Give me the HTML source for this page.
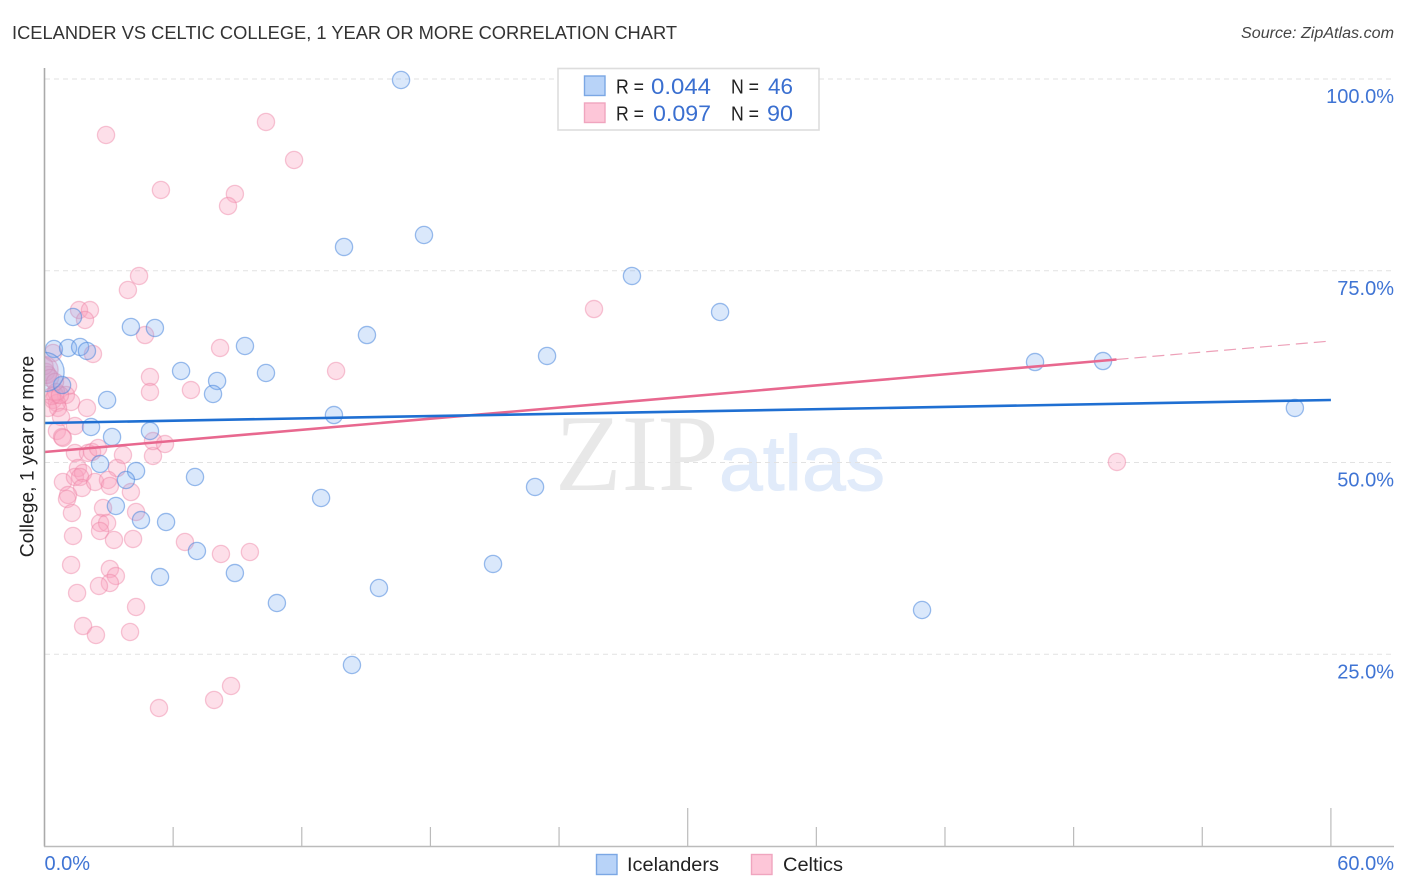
<!DOCTYPE html>
<html lang="en">
<head>
<meta charset="utf-8">
<title>Icelander vs Celtic College, 1 Year or More Correlation Chart</title>
<style>
html,body{margin:0;padding:0;background:#fff;}
body{width:1406px;height:892px;overflow:hidden;font-family:"Liberation Sans",sans-serif;}
svg{display:block;}
text{font-family:"Liberation Sans",sans-serif;}
</style>
</head>
<body>
<svg id="chart" xmlns="http://www.w3.org/2000/svg" width="1406" height="892" viewBox="0 0 1406 892">
  <defs>
    <clipPath id="plot-clip"><rect x="45" y="60" width="1349" height="786"/></clipPath>
  </defs>
  <text x="12" y="39" font-size="18.5" fill="#333" textLength="665" lengthAdjust="spacingAndGlyphs">ICELANDER VS CELTIC COLLEGE, 1 YEAR OR MORE CORRELATION CHART</text>
  <text x="1394" y="38" font-size="15.5" font-style="italic" fill="#444" text-anchor="end" textLength="153" lengthAdjust="spacingAndGlyphs">Source: ZipAtlas.com</text>
  <g>
    <text x="555" y="490" font-size="109" fill="#e8e8e8" style="font-family:'Liberation Serif',serif">ZIP</text>
    <text x="719" y="490" font-size="78" fill="#e1ebfa" stroke="#e1ebfa" stroke-width="1" style="font-family:'Liberation Sans',sans-serif" textLength="166" lengthAdjust="spacingAndGlyphs">atlas</text>
  </g>
  <g id="grid"></g>
  <g id="points-celtics" clip-path="url(#plot-clip)"></g>
  <g id="points-icelanders" clip-path="url(#plot-clip)"></g>
  <g id="trends"></g>
  <g id="axes"></g>
  <text transform="translate(33.5,456.5) rotate(-90)" font-size="19.3" fill="#222" text-anchor="middle">College, 1 year or more</text>

  <g>
    <rect x="558" y="68.5" width="261" height="61.5" fill="#fff" stroke="#ddd" stroke-width="1.6"/>
    <rect x="584.5" y="76" width="20.5" height="19.5" fill="#b8d3f8" stroke="#7ba7e4" stroke-width="1.4"/>
    <rect x="584.5" y="103" width="20.5" height="19.5" fill="#fdc6d8" stroke="#f0a5bf" stroke-width="1.4"/>
    <g font-size="20" fill="#222">
      <text x="616" y="93.5" textLength="28" lengthAdjust="spacingAndGlyphs">R =</text>
      <text x="731" y="93.5" textLength="28" lengthAdjust="spacingAndGlyphs">N =</text>
      <text x="616" y="120.5" textLength="28" lengthAdjust="spacingAndGlyphs">R =</text>
      <text x="731" y="120.5" textLength="28" lengthAdjust="spacingAndGlyphs">N =</text>
    </g>
    <g font-size="22" fill="#3a6fd0">
      <text x="651" y="94" textLength="60" lengthAdjust="spacingAndGlyphs">0.044</text>
      <text x="768" y="94" textLength="25" lengthAdjust="spacingAndGlyphs">46</text>
      <text x="653" y="121" textLength="58" lengthAdjust="spacingAndGlyphs">0.097</text>
      <text x="767" y="121" textLength="26" lengthAdjust="spacingAndGlyphs">90</text>
    </g>
  </g>

  <g>
    <rect x="596.5" y="854.5" width="20.5" height="20" fill="#b8d3f8" stroke="#7ba7e4" stroke-width="1.4"/>
    <text x="627" y="871" font-size="19.8" fill="#222" textLength="92" lengthAdjust="spacingAndGlyphs">Icelanders</text>
    <rect x="751.5" y="854.5" width="20.5" height="20" fill="#fdc6d8" stroke="#f0a5bf" stroke-width="1.4"/>
    <text x="783" y="871" font-size="19.8" fill="#222" textLength="60" lengthAdjust="spacingAndGlyphs">Celtics</text>
  </g>
</svg>
<script>
const icelanderX = [16.63,13.97,17.70,27.40,31.51,4.03,5.15,1.33,0.44,1.10,1.66,1.98,9.35,15.04,23.44,46.20,49.37,58.32,6.37,8.05,7.86,10.33,2.92,0.82,0.0,13.50,2.17,4.92,3.15,2.59,4.27,7.02,3.80,3.33,4.50,5.67,12.90,22.88,7.11,5.39,8.88,15.60,10.84,20.92,40.93,14.34];
const icelanderY = [99.87,78.10,79.66,74.32,69.62,67.67,67.54,68.97,64.80,64.93,65.06,64.54,65.19,66.62,63.89,63.10,63.23,57.11,61.93,60.63,58.93,61.67,58.15,60.10,61.80,56.19,54.63,54.11,53.33,49.81,48.89,48.11,47.72,44.33,42.50,42.24,45.37,46.81,38.46,35.07,35.59,33.64,31.68,36.77,30.77,23.60];
const icelanderWeights = [1,1,1,1,1,1,1,1,1,1,1,1,1,1,1,1,1,1,1,1,1,1,1,1,5.2,1,1,1,1,1,1,1,1,1,1,1,1,1,1,1,1,1,1,1,1,1];

const celticX = [2.87,10.33,11.64,5.43,8.88,8.56,4.41,3.89,1.61,2.12,1.89,25.63,4.69,2.26,8.19,0.40,4.92,4.92,6.83,1.10,1.00,1.24,0.49,0.40,0.58,0.63,1.98,0.77,1.42,0.58,0.82,0.86,1.42,2.03,2.22,2.50,3.66,5.06,5.06,5.62,1.56,3.38,0.86,1.42,1.80,1.66,1.75,2.36,2.96,3.05,4.03,1.10,1.05,1.28,2.73,4.27,2.59,2.92,2.59,3.24,4.13,1.33,1.24,3.05,3.33,3.05,2.54,1.52,4.27,1.80,2.40,3.99,5.34,7.91,8.70,6.55,8.23,9.58,50.02,13.60,0.0,0.07,0.16,0.0,0.26,0.54,0.35,0.72,0.49,0.16];
const celticY = [92.70,94.40,89.44,85.53,85.01,83.44,74.32,72.49,69.88,69.88,68.58,70.01,66.62,64.15,64.93,64.28,61.15,59.19,59.45,59.97,58.80,57.89,58.80,58.15,57.76,57.11,57.11,55.93,54.76,54.11,53.33,53.20,51.24,51.24,51.37,51.89,50.98,50.85,52.80,52.41,49.28,49.28,47.46,48.11,48.63,48.11,46.68,47.46,47.72,46.94,46.15,45.76,45.24,43.42,44.07,43.55,42.11,42.11,41.07,39.90,40.03,40.42,36.64,36.12,35.20,34.29,33.90,32.99,31.16,28.68,27.51,27.90,17.99,19.04,20.86,39.64,38.07,38.33,50.07,61.93,62.06,61.80,61.41,62.58,61.02,59.19,58.67,58.80,60.50,57.11];
const celticWeights = [1,1,1,1,1,1,1,1,1,1,1,1,1,1,1,1,1,1,1,1,1,1,1,1,1,1,1,1,1,1,1,1,1,1,1,1,1,1,1,1,1,1,1,1,1,1,1,1,1,1,1,1,1,1,1,1,1,1,1,1,1,1,1,1,1,1,1,1,1,1,1,1,1,1,1,1,1,1,1,1,2.5,1,1,1,1,1,1,1,1,1];

const icelanderTrendX = [0, 60];
const icelanderTrendY = [55.15, 58.15];
const celticTrendSolidX = [0, 50];
const celticTrendSolidY = [51.37, 63.43];
const celticTrendDashedX = [50, 60];
const celticTrendDashedY = [63.43, 65.84];

const yGridValues = [25, 50, 75, 100];
const yTickLabels = ["25.0%", "50.0%", "75.0%", "100.0%"];
const xTickValues = [6, 12, 18, 24, 30, 36, 42, 48, 54, 60];
const xEndValues = [0, 60];
const xEndLabels = ["0.0%", "60.0%"];

const SVG_NS = 'http://www.w3.org/2000/svg';
function xScale(v) { return 44.5 + v * 21.44; }
function yScale(v) { return 846 - v * 7.67; }
function make(tag, attrs, parent) {
  const el = document.createElementNS(SVG_NS, tag);
  for (const k in attrs) el.setAttribute(k, attrs[k]);
  parent.appendChild(el);
  return el;
}

const gridGroup = document.getElementById('grid');
yGridValues.forEach(function (v, i) {
  const line = make('line', { x1: 45, x2: 1394, y1: yScale(v), y2: yScale(v), stroke: '#e2e2e2', 'stroke-width': 1, 'stroke-dasharray': '5 4' }, gridGroup);
  
  
  const label = make('text', { x: 1394, y: yScale(v) + 24, 'font-size': 20, fill: '#3f74d4', 'text-anchor': 'end' }, gridGroup);
  label.textContent = yTickLabels[i];
  
  
});

function drawPoints(groupId, xs, ys, weights, fill, stroke, name) {
  const group = document.getElementById(groupId);
  xs.forEach(function (x, i) {
    const c = make('circle', { cx: xScale(x), cy: yScale(ys[i]), r: 8.6 * Math.sqrt(weights[i]), fill: fill, stroke: stroke, 'stroke-width': 1.3 }, group);
    
    
  });
}
drawPoints('points-celtics', celticX, celticY, celticWeights, 'rgba(248,160,190,0.34)', 'rgba(238,130,165,0.45)', 'celtics-point');
drawPoints('points-icelanders', icelanderX, icelanderY, icelanderWeights, 'rgba(120,170,240,0.27)', 'rgba(75,135,220,0.55)', 'icelanders-point');

const trendGroup = document.getElementById('trends');
function drawTrend(xs, ys, stroke, width, dash, name) {
  const line = make('line', { x1: xScale(xs[0]), y1: yScale(ys[0]), x2: xScale(xs[1]), y2: yScale(ys[1]), stroke: stroke, 'stroke-width': width }, trendGroup);
  if (dash) line.setAttribute('stroke-dasharray', dash);
  
  
}
drawTrend(celticTrendSolidX, celticTrendSolidY, '#e8688f', 2.6, null, 'celtics-trend-line');
drawTrend(celticTrendDashedX, celticTrendDashedY, '#eda0b8', 1.2, '12 6', 'celtics-trend-projection');
drawTrend(icelanderTrendX, icelanderTrendY, '#1f6fd2', 2.6, null, 'icelanders-trend-line');

const axesGroup = document.getElementById('axes');
const yAxis = make('line', { x1: 44.5, x2: 44.5, y1: 68, y2: 846.5, stroke: '#aaa', 'stroke-width': 1.6 }, axesGroup);


const xAxis = make('line', { x1: 44, x2: 1394, y1: 846.5, y2: 846.5, stroke: '#bbb', 'stroke-width': 1.4 }, axesGroup);


xTickValues.forEach(function (v) {
  const top = v % 30 === 0 ? 808 : 827;
  const tick = make('line', { x1: xScale(v), x2: xScale(v), y1: top, y2: 846, stroke: '#bbb', 'stroke-width': 1.2 }, axesGroup);
  
  
});
xEndValues.forEach(function (v, i) {
  const label = make('text', { x: i === 0 ? xScale(v) : 1394, y: 870, 'font-size': 20, fill: '#3f74d4', 'text-anchor': i === 0 ? 'start' : 'end' }, axesGroup);
  label.textContent = xEndLabels[i];
  
  
});
</script>
</body>
</html>
